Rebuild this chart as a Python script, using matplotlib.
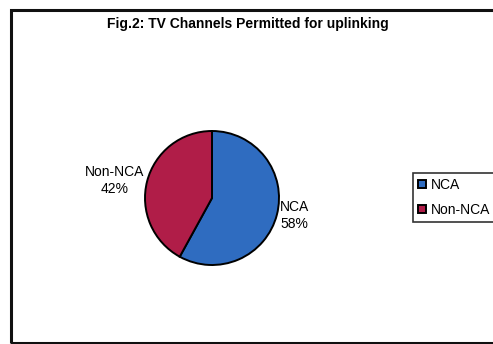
import matplotlib.pyplot as plt
from matplotlib.patches import Rectangle

plt.rcParams['font.family'] = ['Liberation Sans', 'DejaVu Sans']

categories = ["NCA", "Non-NCA"]
shares = [58, 42]
colors = ["#2f6cc0", "#b01d48"]

W, H = 493, 344
fig = plt.figure(figsize=(W / 100, H / 100), dpi=100)

# outer chart frame (right side runs off the page)
fig.patches.append(Rectangle((11 / W, 1 / H), 1.2, 333 / H, transform=fig.transFigure,
                             fill=False, edgecolor="#111111", linewidth=2.2))

fig.text(248 / W, 1 - 24 / H, "Fig.2: TV Channels Permitted for uplinking",
         ha="center", va="center", fontsize=10, fontweight="bold")

cx, cy, r = 212, 198, 67
ax = fig.add_axes([(cx - r) / W, (H - cy - r) / H, 2 * r / W, 2 * r / H])
labels = [f"{c}\n{v}%" for c, v in zip(categories, shares)]
wedges, texts = ax.pie(shares, labels=labels, colors=colors, startangle=90,
                       counterclock=False, labeldistance=1.05,
                       wedgeprops=dict(edgecolor="black", linewidth=1.4),
                       textprops=dict(fontsize=10, multialignment="center"))
ax.set_xlim(-1, 1)
ax.set_ylim(-1, 1)

leg = fig.legend(wedges, categories, loc="upper left",
                 bbox_to_anchor=(413 / W, 1 - 173 / H), fontsize=10,
                 handlelength=0.6, handleheight=0.6, handletextpad=0.35,
                 borderpad=0.35, borderaxespad=0, labelspacing=0.8, fancybox=False)
leg.get_frame().set_edgecolor("black")
leg.get_frame().set_linewidth(1.2)

fig.savefig("out.png", dpi=100)
